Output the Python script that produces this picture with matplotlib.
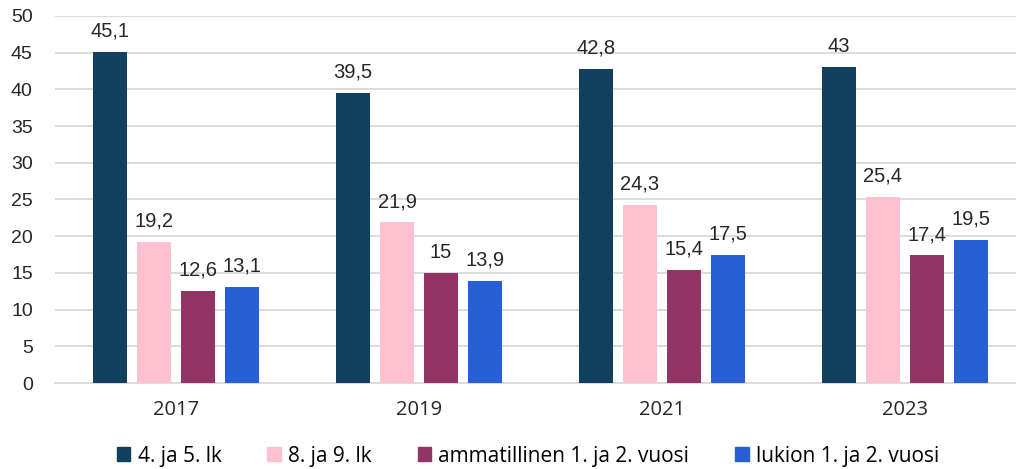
import numpy as np
import matplotlib.pyplot as plt
from matplotlib.patches import Patch

years = ["2017", "2019", "2021", "2023"]
series = ["4. ja 5. lk", "8. ja 9. lk", "ammatillinen 1. ja 2. vuosi", "lukion 1. ja 2. vuosi"]
lk45 = [45.1, 39.5, 42.8, 43]
lk89 = [19.2, 21.9, 24.3, 25.4]
amm = [12.6, 15, 15.4, 17.4]
lukio = [13.1, 13.9, 17.5, 19.5]
colors = ["#12405F", "#FFC0CF", "#923464", "#2760D4"]

fig = plt.figure(figsize=(10.16, 4.69), dpi=100)
ax = fig.add_axes([55 / 1016, 86 / 469, 1 - 55 / 1016, 367 / 469])

x = np.arange(len(years))
w = 34 / 243
step = 44 / 243
label_font = "Liberation Sans"
text_font = "Open Sans"

for i, vals in enumerate([lk45, lk89, amm, lukio]):
    pos = x + (i - 1.5) * step
    bars = ax.bar(pos, vals, width=w, color=colors[i], zorder=3)
    for b, v in zip(bars, vals):
        s = str(v).replace(".", ",")
        ax.annotate(s, (b.get_x() + b.get_width() / 2, v), xytext=(0, 8),
                    textcoords="offset points", ha="center", va="bottom",
                    fontsize=14.5, family=label_font, color="#262626")

ax.set_ylim(0, 50)
ax.set_yticks(range(0, 51, 5))
ax.set_xlim(-0.5, 3.5 - 10 / 243)
ax.set_xticks(x)
ax.set_xticklabels(years, family=text_font, fontsize=14.5, color="#262626")
for t in ax.get_yticklabels():
    t.set_family(label_font)
    t.set_fontsize(14)
    t.set_color("#262626")
ax.tick_params(length=0)
ax.tick_params(axis="x", pad=12)
ax.tick_params(axis="y", pad=16)
ax.grid(axis="y", color="#D9D9D9", linewidth=1.3, zorder=0)
for s in ["top", "right", "left"]:
    ax.spines[s].set_visible(False)
ax.spines["bottom"].set_color("#D9D9D9")
ax.spines["bottom"].set_linewidth(1.3)

handles = [Patch(color=c) for c in colors]
fig.legend(handles, series, loc="center", bbox_to_anchor=(528 / 1016, 1 - 456 / 469),
           ncol=4, frameon=False, handlelength=0.65, handleheight=0.65,
           handletextpad=0.35, columnspacing=2.2,
           prop={"family": text_font, "size": 15})

fig.savefig("out.png", dpi=100)
